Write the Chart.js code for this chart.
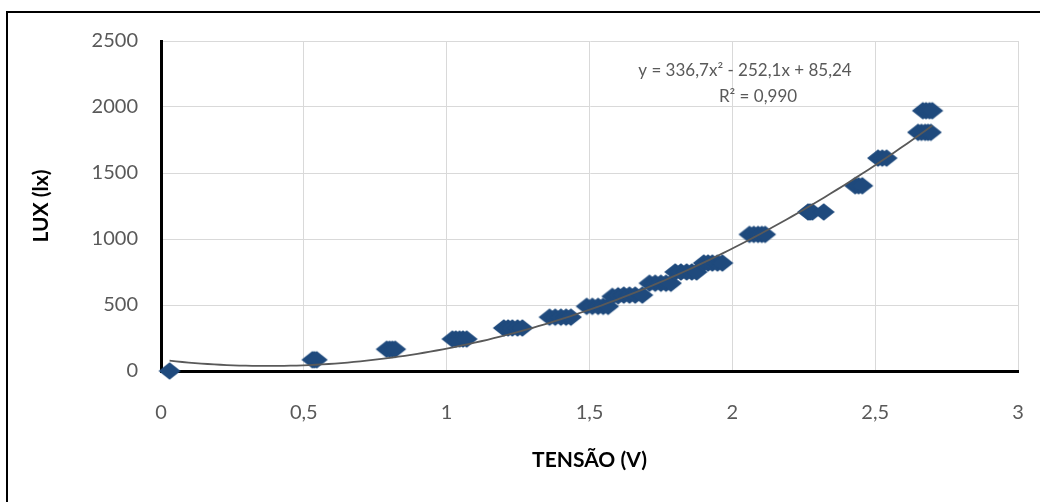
<!DOCTYPE html>
<html>
<head>
<meta charset="utf-8">
<script src="https://cdn.jsdelivr.net/npm/chart.js@4.4.1/dist/chart.umd.min.js"></script>
<style>
  html, body { margin: 0; padding: 0; background: #fff; overflow: hidden; }
  #wrap { position: relative; width: 1040px; height: 502px; }
  #frame { position: absolute; left: 6px; top: 11px; width: 1100px; height: 600px; border: 2px solid #000; box-sizing: border-box; pointer-events: none; }
  canvas { position: absolute; left: 0; top: 0; }
</style>
</head>
<body>
<div id="wrap">
  <canvas id="c" width="1040" height="502"></canvas>
  <div id="frame"></div>
</div>
<script>
// ---- Data ----
const tensao = [
  0.03,
  0.53, 0.537, 0.545,
  0.79, 0.80, 0.81, 0.82,
  1.02, 1.032, 1.045, 1.057, 1.07,
  1.20, 1.215, 1.23, 1.248, 1.265,
  1.36, 1.38, 1.40, 1.418, 1.435,
  1.49, 1.51, 1.53, 1.548, 1.565,
  1.58, 1.60, 1.62, 1.64, 1.66, 1.685,
  1.71, 1.73, 1.75, 1.768, 1.785,
  1.80, 1.82, 1.84, 1.858, 1.875,
  1.90, 1.915, 1.93, 1.948, 1.965,
  2.06, 2.075, 2.09, 2.103, 2.115,
  2.265, 2.272, 2.28, 2.32,
  2.43, 2.442, 2.455,
  2.51, 2.525, 2.54,
  2.65, 2.662, 2.675, 2.685, 2.695,
  2.667, 2.678, 2.69, 2.70
];
const lux = [
  0,
  85, 85, 85,
  165, 165, 165, 165,
  242, 242, 242, 242, 242,
  326, 326, 326, 326, 326,
  408, 408, 408, 408, 408,
  490, 490, 490, 490, 490,
  565, 570, 575, 575, 575, 575,
  665, 665, 665, 665, 665,
  750, 750, 750, 750, 750,
  818, 818, 818, 818, 818,
  1035, 1035, 1035, 1035, 1035,
  1205, 1205, 1205, 1205,
  1403, 1403, 1403,
  1613, 1613, 1613,
  1808, 1808, 1808, 1808, 1808,
  1972, 1972, 1972, 1972
];
const xTicks = [0, 0.5, 1, 1.5, 2, 2.5, 3];
const yTicks = [0, 500, 1000, 1500, 2000, 2500];
// Polynomial trendline coefficients shown on the chart: c0 + c1*x + c2*x^2
const trendCoef = [85.24, -252.1, 336.7];
const rSquared = 0.990;
const xTitle = 'TENSÃO (V)';
const yTitle = 'LUX (lx)';

// ---- Build datasets ----
const points = tensao.map((x, i) => ({ x: x, y: lux[i] }));
const xmin = Math.min(...tensao), xmax = Math.max(...tensao);
const trend = [];
const steps = 120;
for (let i = 0; i <= steps; i++) {
  const x = xmin + (xmax - xmin) * i / steps;
  trend.push({ x: x, y: trendCoef[0] + trendCoef[1] * x + trendCoef[2] * x * x });
}

const fmt = v => String(v).replace('.', ',');
const eqLine1 = 'y = ' + fmt(trendCoef[2]) + 'x² - ' + fmt(Math.abs(trendCoef[1])) + 'x + ' + fmt(trendCoef[0]);
const eqLine2 = 'R² = ' + rSquared.toFixed(3).replace('.', ',');

// Diamond marker
const mk = document.createElement('canvas');
mk.width = 24; mk.height = 20;
(function () {
  const g = mk.getContext('2d');
  g.fillStyle = '#1F4A7D';
  g.beginPath();
  g.moveTo(1, 10); g.lineTo(12, 1.2); g.lineTo(23, 10); g.lineTo(12, 18.8); g.closePath();
  g.fill();
})();

// Trendline label and axis titles
const textPlugin = {
  id: 'texts',
  afterDatasetsDraw(chart) {
    const ctx = chart.ctx;
    const a = chart.chartArea;
    ctx.save();
    ctx.fillStyle = '#595959';
    ctx.font = '17px Lato';
    ctx.textAlign = 'center';
    ctx.textBaseline = 'middle';
    ctx.fillText(eqLine1, 745, 71);
    ctx.fillText(eqLine2, 758, 97);

    ctx.fillStyle = '#000';
    ctx.font = 'bold 21px Lato';
    ctx.fillText(xTitle, (a.left + a.right) / 2, 460);
    ctx.translate(41, (a.top + a.bottom) / 2);
    ctx.rotate(-Math.PI / 2);
    ctx.fillText(yTitle, 0, 0);
    ctx.restore();
  }
};

const tickColor = '#595959';
new Chart(document.getElementById('c'), {
  type: 'scatter',
  data: {
    datasets: [
      {
        type: 'line',
        data: trend,
        borderColor: '#595959',
        borderWidth: 1.8,
        pointRadius: 0,
        fill: false,
        tension: 0,
        order: 0
      },
      {
        data: points,
        pointStyle: mk,
        pointRadius: 11,
        clip: false,
        order: 1
      }
    ]
  },
  options: {
    responsive: false,
    animation: false,
    events: [],
    layout: { padding: { left: 0, right: 22, top: 41, bottom: 0 } },
    plugins: { legend: { display: false }, tooltip: { enabled: false } },
    scales: {
      x: {
        type: 'linear',
        min: 0, max: 3,
        afterBuildTicks: s => { s.ticks = xTicks.map(v => ({ value: v })); },
        afterFit: s => { s.height = 131; s.paddingRight = 0; s.paddingLeft = 0; },
        grid: { color: '#D9D9D9', lineWidth: 1, drawTicks: false },
        border: { color: '#000', width: 3 },
        ticks: { color: tickColor, font: { family: 'Lato', size: 20 }, padding: 30, callback: v => fmt(v) }
      },
      y: {
        type: 'linear',
        min: 0, max: 2500,
        afterBuildTicks: s => { s.ticks = yTicks.map(v => ({ value: v })); },
        afterFit: s => { s.width = 161; },
        grid: { color: '#D9D9D9', lineWidth: 1, drawTicks: false },
        border: { color: '#000', width: 3 },
        ticks: { color: tickColor, font: { family: 'Lato', size: 20 }, padding: 23, callback: v => String(v) }
      }
    }
  },
  plugins: [textPlugin]
});
</script>
</body>
</html>
